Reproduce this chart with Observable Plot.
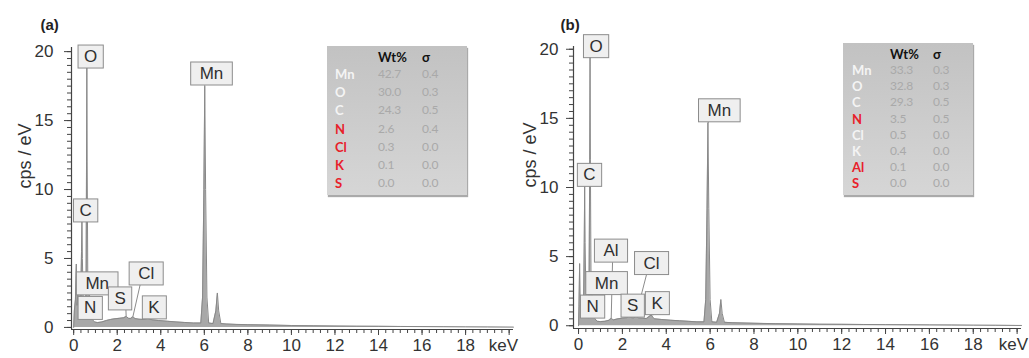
<!DOCTYPE html>
<html><head><meta charset="utf-8">
<script src="https://cdn.jsdelivr.net/npm/d3@7"></script>
<script src="https://cdn.jsdelivr.net/npm/@observablehq/plot@0.6"></script>
<style>
body{margin:0;background:#fff;}
#wrap{position:relative;width:1029px;height:358px;overflow:hidden;font-family:"Liberation Sans",Arial,sans-serif;}
.panel{position:absolute;top:0;}
.panel svg{overflow:visible;}
.tbl{position:absolute;background:linear-gradient(#c2c2c2,#d6d6d6);box-shadow:1px 2px 1px #aaa;font-family:Lato,"Open Sans",sans-serif;font-size:12px;}
.tbl span{position:absolute;line-height:14px;transform:translateY(-7px);white-space:nowrap;}
.tbl .hd{font-weight:bold;color:#111;font-size:13px;}
.tbl .el{font-weight:bold;font-size:13px;}
.tbl .v{color:#a9a9a9;letter-spacing:-0.2px;}
</style></head><body><div id="wrap"></div>
<script>
// ---------- data ----------
const spectrumA = [[0,0],[0.03,1.2],[0.08,2.0],[0.12,4.6],[0.15,1.6],[0.2,2.6],[0.26,2.3],[0.32,1.6],[0.36,5.5],[0.38,7.8],[0.40,5.0],[0.44,1.8],[0.49,1.3],[0.54,1.0],[0.57,3.0],[0.59,12],[0.605,19.4],[0.62,12],[0.65,3.0],[0.69,1.6],[0.73,2.0],[0.77,1.2],[0.85,0.6],[0.95,0.4],[1.1,0.35],[1.3,0.4],[1.5,0.5],[1.7,0.58],[1.9,0.63],[2.1,0.66],[2.3,0.7],[2.41,0.8],[2.52,0.66],[2.62,0.65],[2.72,0.78],[2.82,0.64],[3.0,0.6],[3.2,0.58],[3.41,0.65],[3.6,0.55],[3.9,0.5],[4.3,0.45],[4.7,0.4],[5.1,0.36],[5.5,0.32],[5.84,0.32],[5.92,2.2],[5.98,10],[6.02,17.5],[6.06,10],[6.12,2.2],[6.2,0.32],[6.4,0.28],[6.53,1.2],[6.6,2.5],[6.66,1.2],[6.76,0.28],[7.0,0.25],[7.5,0.22],[8.0,0.2],[9,0.17],[10,0.14],[11,0.12],[12,0.1],[13,0.09],[14,0.08],[15,0.07],[16,0.06],[17,0.05],[18,0.04],[19,0.03],[20.2,0.02]];
const spectrumB = [[0,0],[0.02,1.4],[0.05,4.5],[0.08,1.4],[0.13,1.8],[0.19,1.6],[0.23,1.5],[0.26,6],[0.28,10.1],[0.30,6],[0.34,1.5],[0.39,1.1],[0.44,1.0],[0.48,3],[0.51,12],[0.525,19.6],[0.54,12],[0.57,3],[0.61,1.3],[0.64,1.5],[0.68,1.0],[0.75,0.5],[0.85,0.32],[1.0,0.3],[1.2,0.32],[1.4,0.4],[1.49,0.55],[1.58,0.42],[1.8,0.5],[2.0,0.55],[2.2,0.58],[2.31,0.72],[2.42,0.58],[2.52,0.56],[2.62,0.74],[2.72,0.56],[2.9,0.55],[3.1,0.52],[3.31,0.78],[3.45,0.5],[3.8,0.45],[4.2,0.4],[4.6,0.36],[5.0,0.32],[5.4,0.28],[5.72,0.28],[5.8,1.9],[5.86,8.5],[5.9,14.7],[5.94,8.5],[6.0,1.9],[6.08,0.28],[6.3,0.25],[6.43,0.9],[6.49,1.9],[6.55,0.9],[6.65,0.25],[7.0,0.22],[7.5,0.2],[8,0.18],[9,0.15],[10,0.13],[11,0.11],[12,0.1],[13,0.09],[14,0.08],[15,0.07],[16,0.06],[17,0.05],[18,0.04],[19,0.03],[20.2,0.02]];

// peak labels: text, label centre (keV, cps), leader start x, peak point
const labelNamesA = ["O","Mn","C","Mn","N","S","Cl","K"];
const labelXA =     [0.78, 6.33, 0.55, 1.08, 0.76, 2.13, 3.33, 3.69];
const labelYA =     [19.64,18.41,8.48, 3.19, 1.41, 2.10, 3.91, 1.45];
const leadXA =      [0.605,6.02, 0.38, 0.73, 0.50, 2.40, 3.05, 3.40];
const peakXA =      [0.605,6.02, 0.38, 0.73, 0.49, 2.41, 2.72, 3.41];
const peakYA =      [19.4, 17.5, 7.8,  2.0,  1.3,  0.8,  0.78, 0.65];

const labelNamesB = ["O","Mn","C","Al","Cl","Mn","N","S","K"];
const labelXB =     [0.80, 6.42, 0.50, 1.48, 3.33, 1.28, 0.64, 2.47, 3.58];
const labelYB =     [20.22,15.58,10.91,5.43, 4.53, 3.08, 1.38, 1.45, 1.63];
const leadXB =      [0.525,5.95, 0.28, 1.55, 3.10, 0.64, 0.45, 2.35, 3.42];
const peakXB =      [0.525,5.9,  0.28, 1.49, 2.62, 0.64, 0.39, 2.31, 3.31];
const peakYB =      [19.6, 14.7, 10.1, 0.55, 0.74, 1.5,  1.1,  0.72, 0.78];

// quantification tables
const tableElemA = ["Mn","O","C","N","Cl","K","S"];
const tableWtA   = ["42.7","30.0","24.3","2.6","0.3","0.1","0.0"];
const tableSigA  = ["0.4","0.3","0.5","0.4","0.0","0.0","0.0"];
const tableRedA  = [false,false,false,true,true,true,true];
const tableElemB = ["Mn","O","C","N","Cl","K","Al","S"];
const tableWtB   = ["33.3","32.8","29.3","3.5","0.5","0.4","0.1","0.0"];
const tableSigB  = ["0.3","0.3","0.5","0.5","0.0","0.0","0.0","0.0"];
const tableRedB  = [false,false,false,true,false,false,true,true];

const xMajorTicks = [0,2,4,6,8,10,12,14,16,18];
const xEndTick = 20;
const xUnit = "keV";
const yMajorTicks = [0,5,10,15,20];
const panelTags = ["(a)","(b)"];
const yTitle = "cps / eV";

// ---------- drawing ----------
const FONT = '"Liberation Sans", Arial, sans-serif';
const LABEL_FILL = "#303030";
const wrap = document.getElementById("wrap");

function panel(o) {
  const data = o.spectrum.map(([e, c]) => ({e, c}));
  const lab = o.names.map((n, i) => ({n, x: o.lx[i], y: o.ly[i], sx: o.lead[i], px: o.px[i], py: o.py[i]}));
  const pxPerUnit = (o.height - o.mt - o.mb) / (o.yDomain[1] - o.yDomain[0]);
  const half = 11.5 / pxPerUnit;
  const xMinor = d3.range(0, 20.01, 1/3);
  const yMinor = d3.range(0, 20.01, 0.5);
  return Plot.plot({
    width: o.width, height: o.height,
    marginLeft: o.ml, marginRight: o.mr, marginTop: o.mt, marginBottom: o.mb,
    x: {domain: o.xDomain}, y: {domain: o.yDomain},
    style: {fontFamily: FONT, fontSize: "17px", color: "#333", background: "transparent", overflow: "visible"},
    marks: [
      Plot.areaY(data, {x: "e", y: "c", fill: "#a8a8a8"}),
      Plot.lineY(data, {x: "e", y: "c", stroke: "#888", strokeWidth: 1}),
      Plot.axisX({ticks: xMinor, tickSize: 4, tickFormat: () => "", label: null, stroke: "#444"}),
      Plot.axisX({ticks: [...xMajorTicks, xEndTick], tickSize: 6, tickPadding: 3, label: null, stroke: "#444",
        tickFormat: d => d === xEndTick ? "" : String(d)}),
      Plot.text([xUnit], {x: o.unitX, frameAnchor: "bottom", lineAnchor: "top", dy: 9, fontSize: 17, fill: "#333"}),
      Plot.axisY({ticks: yMinor, tickSize: 4, tickFormat: () => "", label: null, stroke: "#444"}),
      Plot.axisY({ticks: yMajorTicks, tickSize: 7, tickPadding: o.yPad, label: null, stroke: "#444"}),
      Plot.ruleX([o.xDomain[0]], {stroke: "#444", strokeWidth: 1.2}),
      Plot.ruleY([o.yDomain[0]], {stroke: "#444", strokeWidth: 1.2}),
      Plot.link(lab, {x1: "sx", y1: d => d.y - half, x2: "px", y2: "py", stroke: "#8c8c8c", strokeWidth: 1}),
      Plot.text(lab, {x: "x", y: "y", text: "n", fontSize: 17, fill: LABEL_FILL}),
      Plot.text([yTitle], {frameAnchor: "left", rotate: -90, dx: o.titleDx, fontSize: 18, fill: "#333"}),
      Plot.text([o.tag], {frameAnchor: "top-left", textAnchor: "start", lineAnchor: "middle", dx: o.tagDx, dy: o.tagDy, fontSize: 15, fontWeight: "bold", fill: "#222"})
    ]
  });
}

function boxLabels(svg) {
  for (const t of svg.querySelectorAll(`g[fill="${LABEL_FILL}"] text`)) {
    const bb = t.getBBox();
    const w = bb.width + 12 + (bb.width > 15 ? 6 : 0);
    const r = document.createElementNS("http://www.w3.org/2000/svg", "rect");
    r.setAttribute("x", bb.x + bb.width / 2 - w / 2);
    r.setAttribute("y", bb.y + bb.height / 2 - 11.5);
    r.setAttribute("width", w);
    r.setAttribute("height", 23);
    r.setAttribute("fill", "#efefef");
    r.setAttribute("stroke", "#8c8c8c");
    r.setAttribute("stroke-width", 1);
    if (t.getAttribute("transform")) r.setAttribute("transform", t.getAttribute("transform"));
    t.parentNode.insertBefore(r, t);
  }
}

function addPanel(left, o) {
  const d = document.createElement("div");
  d.className = "panel";
  d.style.left = left + "px";
  wrap.appendChild(d);
  const svg = panel(o);
  d.appendChild(svg);
  boxLabels(svg);
}

function addTable(o) {
  const t = document.createElement("div");
  t.className = "tbl";
  Object.assign(t.style, {left: o.left + "px", top: o.top + "px", width: o.w + "px", height: o.h + "px"});
  const put = (txt, x, y, cls, color) => {
    const s = document.createElement("span");
    s.textContent = txt; s.className = cls;
    s.style.left = x + "px"; s.style.top = y + "px";
    if (color) s.style.color = color;
    t.appendChild(s);
  };
  put("Wt%", o.cx[1], o.hy, "hd");
  put("σ", o.cx[2], o.hy, "hd");
  o.elem.forEach((e, i) => {
    const y = o.ry + i * o.rs;
    put(e, o.cx[0], y, "el", o.red[i] ? "#e8202a" : "#f4f4f4");
    put(o.wt[i], o.cx[1], y, "v");
    put(o.sig[i], o.cx[2], y, "v");
  });
  wrap.appendChild(t);
}

addPanel(0, {spectrum: spectrumA, names: labelNamesA, lx: labelXA, ly: labelYA, lead: leadXA, px: peakXA, py: peakYA,
  width: 515, height: 358, ml: 71, mr: 2, mt: 47, mb: 29, unitX: 19.74,
  xDomain: [-0.1, 20.2], yDomain: [-0.15, 20.3], yPad: 11, titleDx: -46, tag: panelTags[0], tagDx: -31, tagDy: -22});
addPanel(515, {spectrum: spectrumB, names: labelNamesB, lx: labelXB, ly: labelYB, lead: leadXB, px: peakXB, py: peakYB,
  width: 514, height: 358, ml: 58, mr: 8, mt: 46, mb: 30, unitX: 19.83,
  xDomain: [-0.23, 20.2], yDomain: [-0.2, 20.2], yPad: 8, titleDx: -43, tag: panelTags[1], tagDx: -13, tagDy: -21});

addTable({left: 327, top: 46, w: 140, h: 149, cx: [8, 51, 95], hy: 11, ry: 28, rs: 18.2,
  elem: tableElemA, wt: tableWtA, sig: tableSigA, red: tableRedA});
addTable({left: 843, top: 43, w: 130, h: 152, cx: [9, 47, 90], hy: 11, ry: 27, rs: 16.2,
  elem: tableElemB, wt: tableWtB, sig: tableSigB, red: tableRedB});
</script></body></html>
